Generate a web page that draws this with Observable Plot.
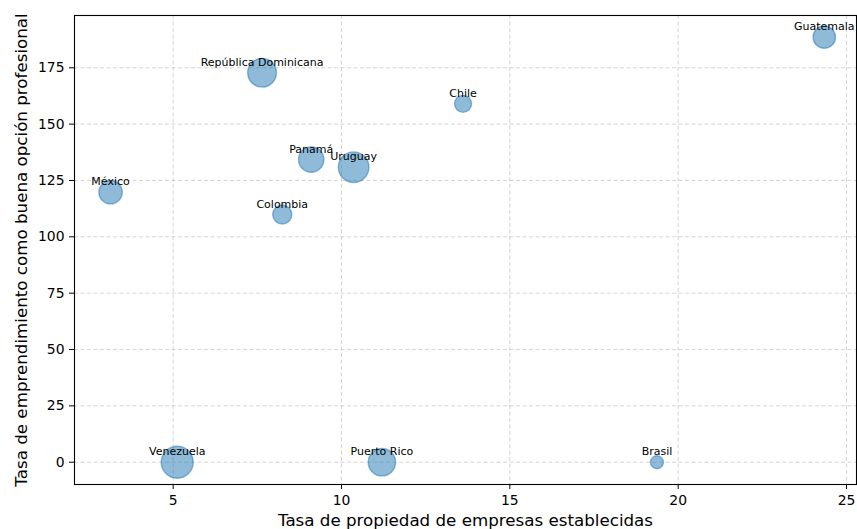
<!DOCTYPE html>
<html>
<head>
<meta charset="utf-8">
<script src="https://cdn.jsdelivr.net/npm/d3@7"></script>
<script src="https://cdn.jsdelivr.net/npm/@observablehq/plot@0.6"></script>
<style>
  html, body { margin: 0; padding: 0; background: #fff; }
  #chart svg { display: block; font-family: "DejaVu Sans", sans-serif; }
</style>
</head>
<body>
<div id="chart"></div>
<script>
const paises = ["Guatemala", "República Dominicana", "Chile", "Panamá", "Uruguay", "México", "Colombia", "Venezuela", "Puerto Rico", "Brasil"];
const propiedad = [24.34, 7.64, 13.61, 9.10, 10.36, 3.14, 8.24, 5.12, 11.20, 19.37];
const emprendimiento = [188.6, 172.8, 159.0, 134.3, 130.9, 119.8, 109.9, 0, 0, 0];
const tamano = [130, 215, 76, 168, 245, 143, 95, 268, 196, 44];

const xTicks = [5, 10, 15, 20, 25];
const yTicks = [0, 25, 50, 75, 100, 125, 150, 175];

const xLabel = "Tasa de propiedad de empresas establecidas";
const yLabel = "Tasa de emprendimiento como buena opción profesional";

const data = paises.map((p, i) => ({pais: p, x: propiedad[i], y: emprendimiento[i], s: tamano[i]}));

const chart = Plot.plot({
  width: 857,
  height: 529,
  marginLeft: 74,
  marginRight: 1,
  marginTop: 15,
  marginBottom: 45,
  style: {fontFamily: "DejaVu Sans, sans-serif", background: "white", color: "black"},
  x: {domain: [2.069, 25.297]},
  y: {domain: [-9.89, 198.2]},
  r: {type: "sqrt", domain: [0, 268], range: [0, 16]},
  marks: [
    Plot.ruleX(xTicks, {stroke: "#b0b0b0", strokeOpacity: 0.6, strokeWidth: 0.9, strokeDasharray: "4,2.5"}),
    Plot.ruleY(yTicks, {stroke: "#b0b0b0", strokeOpacity: 0.6, strokeWidth: 0.9, strokeDasharray: "4,2.5"}),
    Plot.axisX({ticks: xTicks, tickSize: 5, tickPadding: 6, fontSize: 13.9, label: null, tickFormat: d => String(d)}),
    Plot.axisY({ticks: yTicks, tickSize: 5, tickPadding: 5, fontSize: 13.9, label: null, tickFormat: d => String(d)}),
    Plot.dot(data, {x: "x", y: "y", r: "s", fill: "#1f77b4", fillOpacity: 0.5, stroke: "#1f77b4", strokeOpacity: 0.5, strokeWidth: 1.4}),
    Plot.text(data, {x: "x", y: d => d.y + 3, text: "pais", fontSize: 11, lineAnchor: "bottom", fill: "black"}),
    Plot.frame({stroke: "black", strokeWidth: 1.1}),
    Plot.text([xLabel], {frameAnchor: "bottom", dy: 41, text: d => d, fontSize: 16.7, lineAnchor: "bottom", fill: "black"}),
    Plot.text([yLabel], {frameAnchor: "left", dx: -48, rotate: -90, text: d => d, fontSize: 16.7, lineAnchor: "bottom", textAnchor: "middle", fill: "black"})
  ]
});
document.getElementById("chart").appendChild(chart);
</script>
</body>
</html>
